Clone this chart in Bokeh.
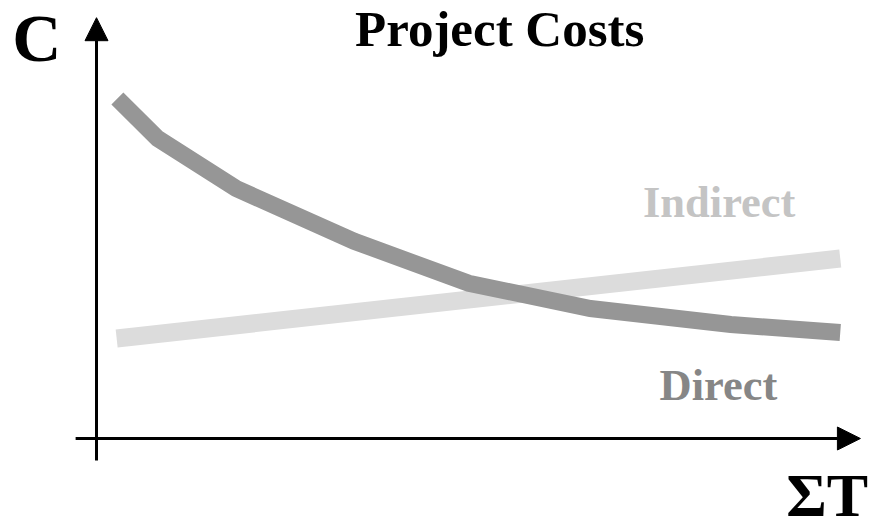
from bokeh.plotting import figure
from bokeh.models import Range1d, Arrow, NormalHead, Label
from bokeh.embed import file_html
from bokeh.resources import INLINE

# Cost curves over total project time (arbitrary units)
direct_t = [0.29, 0.85, 1.94, 3.58, 5.17, 6.86, 8.81, 10.33]
direct_cost = [8.5, 7.5, 6.25, 4.93, 3.88, 3.25, 2.85, 2.65]

indirect_t = [0.28, 10.33]
indirect_cost = [2.5, 4.5]

title_text = "Project Costs"
y_label = "C"
x_label = "ΣT"
direct_label = "Direct"
indirect_label = "Indirect"

FONT = "Liberation Serif"

p = figure(width=870, height=531, output_backend="svg", toolbar_location=None,
           x_range=Range1d(-96 / 72, 774 / 72), y_range=Range1d(-93 / 40, 438 / 40),
           min_border=0)
p.axis.visible = False
p.grid.visible = False
p.outline_line_color = None
p.background_fill_color = "white"
p.border_fill_color = "white"

# Curves
p.line(indirect_t, indirect_cost, line_color="#dcdcdc", line_width=18, line_cap="butt")
p.line(direct_t, direct_cost, line_color="#969696", line_width=17,
       line_cap="butt", line_join="miter")

# Axis arrows
head_v = NormalHead(size=23, fill_color="black", line_color="black", line_width=1)
head_h = NormalHead(size=23, fill_color="black", line_color="black", line_width=1)
p.add_layout(Arrow(end=head_v, x_start=0, y_start=-0.55, x_end=0, y_end=10.52,
                   line_color="black", line_width=3))
p.add_layout(Arrow(end=head_h, x_start=-0.29, y_start=0, x_end=10.61, y_end=0,
                   line_color="black", line_width=3))

def add_text(x, y, text, size, color="black", align="left"):
    p.add_layout(Label(x=x, y=y, text=text, text_font=FONT, text_font_style="bold",
                       text_font_size=size, text_color=color, text_align=align,
                       text_baseline="alphabetic"))

add_text(5.6, 10.25, title_text, "51px", align="center")
add_text(-1.17, 10.02, y_label, "68px")
add_text(9.58, -1.42, x_label, "62px")
add_text(7.59, 5.92, indirect_label, "44.5px", color="#c4c4c4")
add_text(7.82, 1.35, direct_label, "44.5px", color="#868686")

open("out.html", "w").write(file_html(p, INLINE))
